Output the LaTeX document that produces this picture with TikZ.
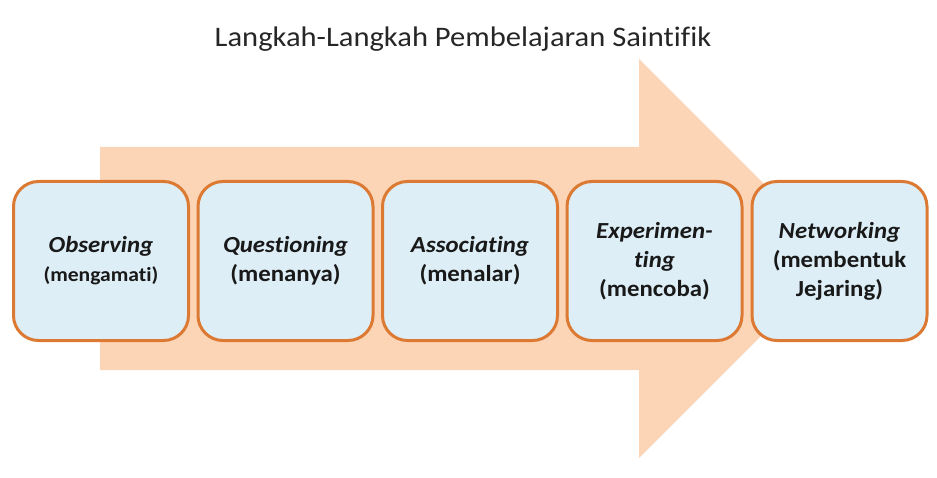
\documentclass[tikz,border=0pt]{standalone}
\usepackage{fontspec}
\setmainfont{Carlito}[Ligatures={NoCommon,NoRequired},FakeStretch=1.08]
\definecolor{arrowpeach}{HTML}{FCD5B6}
\definecolor{boxline}{HTML}{DC7A33}
\definecolor{boxfill}{HTML}{DDEEF6}
\definecolor{titlegray}{HTML}{262626}

\begin{document}
\begin{tikzpicture}[x=1pt,y=-1pt,
    stepbox/.style={fill=boxfill,draw=boxline,line width=3pt,rounded corners=25pt,
      minimum width=175pt,minimum height=159pt,align=center,text=black!90,
      font=\bfseries\fontsize{23}{29}\selectfont}]
      \useasboundingbox (0,0) rectangle (937,478);
      \fill[arrowpeach] (100,147) -- (639,147) -- (639,59) -- (838.5,258.5)
        -- (639,458) -- (639,370) -- (100,370) -- cycle;
      \draw
        (463,47) node[anchor=base,text=titlegray,font=\fontsize{28.3}{33}\selectfont] (title){Langkah-Langkah Pembelajaran Saintifik}
        (101,261) node[stepbox] (0){\textit{Observing}\\{\fontsize{20}{27}\selectfont(mengamati)}}
        (285.5,261) node[stepbox] (1){\textit{Questioning}\\(menanya)}
        (470,261) node[stepbox] (2){\textit{Associating}\\(menalar)}
        (654.5,261) node[stepbox] (3){\textit{Experimen-}\\\textit{ting}\\(mencoba)}
        (839.5,261) node[stepbox] (4){\textit{Networking}\\(membentuk\\Jejaring)};
    \end{tikzpicture}
\end{document}
